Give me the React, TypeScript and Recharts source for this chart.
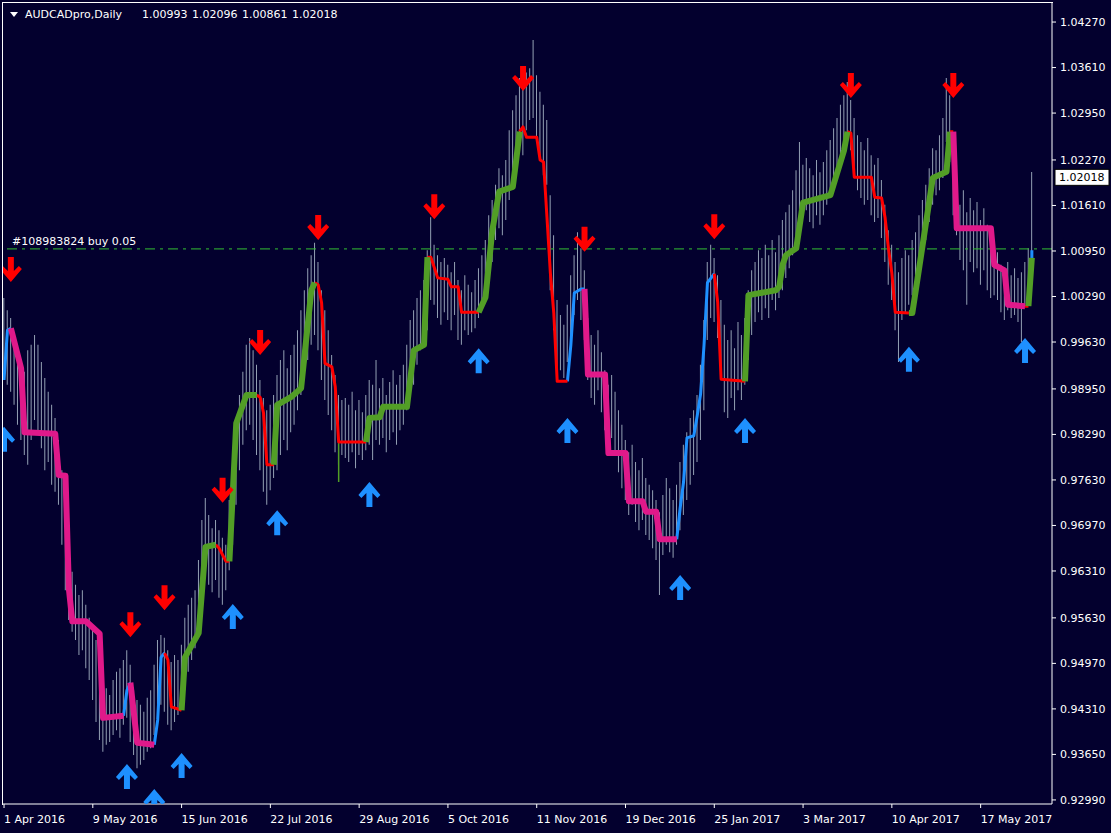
import React from "react";
import {
  ComposedChart,
  Bar,
  Line,
  Scatter,
  XAxis,
  YAxis,
  ReferenceLine,
} from "recharts";

// daily bars, high / low per bar (bar 0 = 1 Apr 2016)
const highs = [
  1.0027, 1.0009, 0.9998, 0.9969, 0.9959, 0.9937, 0.992, 0.9951, 0.9959, 0.9973,
  0.9959, 0.9934, 0.9911, 0.9891, 0.9872, 0.9853, 0.9821, 0.9777, 0.9705, 0.9654,
  0.963, 0.9611, 0.9596, 0.9603, 0.9582, 0.9563, 0.9545, 0.9531, 0.9502, 0.9485,
  0.9461, 0.9451, 0.9473, 0.9485, 0.949, 0.9502, 0.9516, 0.9495, 0.9458, 0.9444,
  0.9437, 0.9427, 0.9447, 0.9458, 0.9495, 0.9531, 0.9538, 0.9534, 0.9516, 0.9499,
  0.9509, 0.9502, 0.9524, 0.9563, 0.9582, 0.9592, 0.9603, 0.9647, 0.9705, 0.9737,
  0.9712, 0.9693, 0.9705, 0.969, 0.9679, 0.9669, 0.9734, 0.9792, 0.9843, 0.9886,
  0.992, 0.9959, 0.9969, 0.9951, 0.993, 0.9908, 0.9882, 0.9864, 0.9872, 0.9886,
  0.9915, 0.9937, 0.9951, 0.9925, 0.9944, 0.9959, 0.998, 1.0009, 1.0038, 1.007,
  1.0089, 1.0107, 1.0079, 1.0038, 1.0009, 0.998, 0.9944, 0.9915, 0.9886, 0.9879,
  0.9882, 0.9872, 0.9891, 0.9864, 0.9879, 0.9861, 0.9886, 0.9908, 0.9901, 0.9937,
  0.9896, 0.9911, 0.9886, 0.9905, 0.9922, 0.9901, 0.9915, 0.993, 0.9959, 0.9995,
  1.0009, 1.0027, 1.0038, 1.0053, 1.0096, 1.0144, 1.0104, 1.0089, 1.0079, 1.0085,
  1.0075, 1.0064, 1.0079, 1.0053, 1.0038, 1.006, 1.0046, 1.0035, 1.0053, 1.007,
  1.0089, 1.0111, 1.0147, 1.0169, 1.0191, 1.0215, 1.0205, 1.0227, 1.027, 1.0299,
  1.0321, 1.0346, 1.0336, 1.0354, 1.036, 1.0401, 1.035, 1.0326, 1.0307, 1.0285,
  1.0176, 1.0118, 1.0024, 1.0002, 0.9988, 1.0017, 1.006, 1.0089, 1.0122, 1.0099,
  1.0067, 0.9998, 0.9973, 0.9959, 0.998, 0.9948, 0.9922, 0.9901, 0.9915, 0.9891,
  0.9864, 0.9843, 0.9821, 0.9803, 0.9814, 0.9789, 0.9777, 0.9795, 0.9766, 0.9756,
  0.9748, 0.9734, 0.9716, 0.9741, 0.9766, 0.9751, 0.9734, 0.9756, 0.9789, 0.9814,
  0.9832, 0.9853, 0.9864, 0.9886, 0.993, 0.9995, 1.0079, 1.0104, 1.0085, 1.006,
  1.0024, 0.9988, 0.9966, 0.998, 0.9954, 0.9992, 0.9973, 0.9998, 1.0038, 1.0067,
  1.0079, 1.0096, 1.0085, 1.0104, 1.0089, 1.0111, 1.0093, 1.0118, 1.014, 1.0151,
  1.0162, 1.0183, 1.0212, 1.0253, 1.022, 1.023, 1.0215, 1.0205, 1.0227, 1.0209,
  1.0224, 1.0241, 1.0256, 1.0273, 1.0288, 1.0307, 1.0321, 1.034, 1.0314, 1.0288,
  1.0263, 1.0253, 1.0241, 1.0259, 1.0234, 1.022, 1.023, 1.0198, 1.0162, 1.0125,
  1.0104, 1.0079, 1.0064, 1.0085, 1.0096, 1.0089, 1.0111, 1.0122, 1.0147, 1.0169,
  1.0191, 1.0215, 1.0244, 1.0241, 1.0263, 1.0288, 1.0346, 1.0321, 1.0256, 1.022,
  1.0162, 1.0183, 1.0151, 1.0172, 1.0154, 1.0166, 1.014, 1.0157, 1.0133, 1.0118,
  1.0111, 1.0093, 1.0075, 1.0067, 1.0079, 1.006, 1.007, 1.0056, 1.0064, 1.0079,
  1.0099, 1.02096,
];

const lows = [
  0.992, 0.9901, 0.9891, 0.9872, 0.9843, 0.9821, 0.9799, 0.9785, 0.9821, 0.985,
  0.9832, 0.9809, 0.9777, 0.9789, 0.9756, 0.9746, 0.9727, 0.9669, 0.9603, 0.956,
  0.9543, 0.9531, 0.9509, 0.9516, 0.949, 0.9473, 0.9444, 0.9412, 0.9386, 0.9369,
  0.9379, 0.9383, 0.9393, 0.94, 0.9389, 0.9408, 0.9418, 0.9383, 0.9364, 0.9345,
  0.935, 0.9357, 0.9369, 0.9374, 0.9393, 0.9415, 0.9437, 0.9427, 0.9408, 0.94,
  0.9412, 0.9422, 0.9437, 0.9458, 0.9485, 0.9502, 0.9519, 0.9553, 0.9589, 0.9625,
  0.9611, 0.96, 0.9618, 0.9592, 0.9582, 0.9603, 0.9632, 0.9669, 0.9727, 0.9777,
  0.9814, 0.9835, 0.9843, 0.9821, 0.9799, 0.9777, 0.9746, 0.9727, 0.9748, 0.9766,
  0.9777, 0.9799, 0.9821, 0.9806, 0.9832, 0.9843, 0.9864, 0.9886, 0.9915, 0.9937,
  0.9959, 0.9973, 0.9951, 0.9908, 0.9879, 0.9857, 0.9835, 0.9803, 0.9785, 0.9799,
  0.9795, 0.9789, 0.9803, 0.978, 0.9799, 0.9792, 0.9806, 0.9814, 0.9792, 0.9821,
  0.9814, 0.9824, 0.9803, 0.9821, 0.9832, 0.9814, 0.9835, 0.9843, 0.9864, 0.9886,
  0.9901, 0.993, 0.9951, 0.9959, 0.998, 1.0024, 1.0017, 0.9998, 0.9988, 1.0006,
  0.9995, 0.998, 1.0002, 0.9966, 0.9959, 0.998, 0.9973, 0.9977, 0.9983, 0.9998,
  1.0009, 1.0024, 1.0053, 1.0079, 1.0111, 1.0128, 1.0118, 1.014, 1.0169, 1.0201,
  1.0227, 1.0249, 1.0234, 1.027, 1.0285, 1.0288, 1.0256, 1.0227, 1.0205, 1.0191,
  1.0038, 0.998, 0.992, 0.9922, 0.9911, 0.9934, 0.9973, 1.0002, 1.0024, 0.9995,
  0.9966, 0.9908, 0.9882, 0.9872, 0.9893, 0.9861, 0.9835, 0.9814, 0.9824, 0.9799,
  0.9774, 0.9751, 0.9734, 0.9712, 0.9727, 0.9702, 0.969, 0.9705, 0.9683, 0.9676,
  0.9664, 0.9647, 0.9596, 0.9654, 0.9669, 0.9658, 0.965, 0.9669, 0.969, 0.9712,
  0.9734, 0.9756, 0.977, 0.9789, 0.9821, 0.9864, 0.9966, 0.9998, 0.9992, 0.9969,
  0.9915, 0.9861, 0.9853, 0.9882, 0.9864, 0.9893, 0.9879, 0.9901, 0.9937, 0.9973,
  0.9992, 1.0006, 0.9995, 1.0012, 0.9998, 1.0024, 1.0009, 1.0027, 1.0038, 1.0056,
  1.007, 1.0089, 1.0104, 1.014, 1.0147, 1.0154, 1.0137, 1.0128, 1.0147, 1.0133,
  1.0147, 1.0162, 1.0176, 1.0191, 1.0205, 1.022, 1.0244, 1.0256, 1.0241, 1.0215,
  1.0183, 1.0172, 1.0162, 1.0169, 1.0147, 1.0137, 1.0143, 1.0114, 1.0079, 1.0046,
  1.0024, 0.998, 0.9934, 0.9995, 1.0006, 1.0017, 1.0031, 1.0046, 1.0067, 1.0089,
  1.0111, 1.0137, 1.0162, 1.0176, 1.0183, 1.0201, 1.0253, 1.0224, 1.0147, 1.0118,
  1.0082, 1.0067, 1.0017, 1.0079, 1.0064, 1.007, 1.0046, 1.0067, 1.0038, 1.0027,
  1.0031, 1.0024, 1.0006, 0.9995, 1.0009, 0.9998, 1.0002, 0.9992, 0.9963, 1.0017,
  1.0024, 1.00861,
];

const lastBar = { open: 1.00993, high: 1.02096, low: 1.00861, close: 1.02018 };
const orderPrice = 1.0098;
const orderText = "#108983824 buy 0.05";

const xTickBars = [0, 26, 52, 78, 104, 130, 156, 182, 208, 234, 260, 286];
const xTickLabels = [
  "1 Apr 2016", "9 May 2016", "15 Jun 2016", "22 Jul 2016", "29 Aug 2016",
  "5 Oct 2016", "11 Nov 2016", "19 Dec 2016", "25 Jan 2017", "3 Mar 2017",
  "10 Apr 2017", "17 May 2017",
];
const yTicks = [
  0.9299, 0.9365, 0.9431, 0.9497, 0.9563, 0.9631, 0.9697, 0.9763, 0.9829,
  0.9895, 0.9963, 1.0029, 1.0095, 1.0161, 1.0227, 1.0295, 1.0361, 1.0427,
];

// trend indicator, [bar, price] vertices, null = break
type Pt = [number, number] | null;

const thinBlue: Pt[] = [
  [0, 0.9908], [1, 0.998], [2, 0.9983], null,
  [35, 0.9421], [36, 0.9458], [37, 0.9469], null,
  [44, 0.9379], [45, 0.9415], [46, 0.9506], [47, 0.9512], null,
  [165, 0.9906], [166, 0.9959], [167, 1.0034], [169, 1.004], [170, 1.004], null,
  [197, 0.9677], [198, 0.9722], [199, 0.976], [200, 0.9824], [202, 0.9827],
  [203, 0.9856], [204, 0.9888], [205, 0.9959], [206, 1.0049], [208, 1.0062], null,
  [301, 1.0075], [301, 1.0096],
];

const thinRed: Pt[] = [
  [47, 0.9512], [48, 0.9502], [49, 0.9434], [52, 0.9429], null,
  [62, 0.9669], [63, 0.9664], [65, 0.9645], [66, 0.9645], null,
  [74, 0.9886], [75, 0.9883], [76, 0.986], [77, 0.9785], [79, 0.9785], null,
  [91, 1.0049], [92, 1.0046], [93, 1.002], [94, 0.9932], [96, 0.9927], [97, 0.9898],
  [98, 0.9818], [106, 0.9818], null,
  [124, 1.0086], [125, 1.0086], [127, 1.0056], [130, 1.0054], [131, 1.0043],
  [133, 1.0043], [134, 1.0006], [139, 1.0006], null,
  [151, 1.0268], [152, 1.0275], [153, 1.026], [156, 1.026], [157, 1.0227],
  [158, 1.0224], [159, 1.0144], [160, 1.0063], [161, 1.0005], [162, 0.9906],
  [165, 0.9906], null,
  [208, 1.0062], [209, 1.0021], [210, 0.9909], [217, 0.9906], null,
  [247, 1.0268], [248, 1.0266], [249, 1.0202], [254, 1.0202], [255, 1.0173],
  [257, 1.0172], [258, 1.0144], [259, 1.0099], [260, 1.0063], [261, 1.0006],
  [265, 1.0005], null,
  [277, 1.0268], [278, 1.0268], null,
  [299, 1.0015], [300, 1.0015],
];

const thickGreen: Pt[] = [
  [52, 0.9429], [53, 0.9506], [57, 0.9541], [59, 0.9666], [62, 0.9669], null,
  [66, 0.9645], [68, 0.9845], [71, 0.9886], [74, 0.9886], null,
  [79, 0.9785], [80, 0.9872], [84, 0.9883], [87, 0.9896], [90, 1.0038], [91, 1.0049], null,
  [106, 0.9818], [107, 0.9853], [110, 0.9854], [111, 0.9869], [118, 0.9869],
  [120, 0.9951], [123, 0.9959], [124, 1.0086], null,
  [139, 1.0006], [141, 1.0028], [143, 1.0125], [145, 1.0181], [149, 1.0188],
  [150, 1.0227], [151, 1.0268], null,
  [217, 0.9906], [218, 1.0031], [226, 1.0038], [227, 1.0043], [228, 1.0075],
  [229, 1.0089], [232, 1.0099], [234, 1.0165], [242, 1.0176], [246, 1.0241],
  [247, 1.0268], null,
  [265, 1.0005], [266, 1.0005], [272, 1.0201], [276, 1.021], [277, 1.0268], null,
  [300, 1.0015], [301, 1.0085],
];

const thickMagenta: Pt[] = [
  [2, 0.9983], [5, 0.9925], [6, 0.9832], [15, 0.983], [16, 0.977], [18, 0.9769],
  [19, 0.9605], [20, 0.9558], [24, 0.9558], [28, 0.954], [29, 0.9418], [35, 0.9421], null,
  [37, 0.9469], [39, 0.9382], [44, 0.9379], null,
  [170, 1.004], [171, 0.9916], [176, 0.9916], [177, 0.9802], [182, 0.9802],
  [183, 0.9732], [187, 0.9732], [188, 0.9717], [191, 0.9717], [192, 0.9677],
  [197, 0.9677], null,
  [278, 1.0268], [279, 1.0128], [289, 1.0128], [290, 1.0075], [293, 1.0067],
  [294, 1.0017], [299, 1.0015],
];

const greenSpike: Pt[] = [[98, 0.9818], [98, 0.976]];

// signal arrows, [bar, price at arrow tip]
const downArrows: [number, number][] = [
  [2, 1.005], [37, 0.9535], [47, 0.9574], [64, 0.973], [75, 0.9944], [92, 1.0111],
  [126, 1.0141], [152, 1.0327], [170, 1.0094], [208, 1.0112], [248, 1.0317], [278, 1.0317],
];
const upArrows: [number, number][] = [
  [0, 0.984], [36, 0.9351], [44, 0.9315], [52, 0.9367], [67, 0.9583], [80, 0.9719],
  [107, 0.976], [139, 0.9954], [165, 0.9853], [198, 0.9625], [217, 0.9853],
  [265, 0.9956], [299, 0.9969],
];

const W = 1111;
const H = 833;
const BG = "#03002e";
const FG = "#ffffff";
const FONT = "'DejaVu Sans', sans-serif";
const GRAY = "#94a0b4";
const GREEN = "#529e26";
const MAGENTA = "#e0198a";
const BLUE = "#1e90ff";
const RED = "#ff0000";

const bars = highs.map((h, i) => ({ i, range: [lows[i], h] }));

const toSeries = (path: Pt[]) =>
  path.map((p, k) =>
    p ? { i: p[0], v: p[1] } : { i: (path[k - 1] as [number, number])[0], v: null }
  );

const toPoints = (arr: [number, number][]) => arr.map(([i, p]) => ({ i, p }));

function DownArrow({ cx, cy }: any) {
  const d = `M${cx - 3},${cy - 25} L${cx + 3},${cy - 25} L${cx + 3},${cy - 11} L${cx + 8},${cy - 16} L${cx + 11},${cy - 13} L${cx},${cy} L${cx - 11},${cy - 13} L${cx - 8},${cy - 16} L${cx - 3},${cy - 11} Z`;
  return <path d={d} fill={RED} />;
}

function UpArrow({ cx, cy }: any) {
  const d = `M${cx - 3},${cy + 25} L${cx + 3},${cy + 25} L${cx + 3},${cy + 11} L${cx + 8},${cy + 16} L${cx + 11},${cy + 13} L${cx},${cy} L${cx - 11},${cy + 13} L${cx - 8},${cy + 16} L${cx - 3},${cy + 11} Z`;
  return <path d={d} fill={BLUE} />;
}

function XTick({ x, y, payload }: any) {
  const k = xTickBars.indexOf(payload.value);
  return (
    <text x={x} y={y + 13} fill={FG} fontSize={11} fontFamily={FONT}>
      {xTickLabels[k]}
    </text>
  );
}

const lineProps = {
  dataKey: "v",
  dot: false,
  activeDot: false,
  connectNulls: false,
  isAnimationActive: false,
  strokeLinejoin: "round" as const,
};

export default function App() {
  return (
    <div
      style={{
        position: "absolute",
        left: 0,
        top: 0,
        width: W,
        height: H,
        background: BG,
        overflow: "hidden",
        fontFamily: FONT,
      }}
    >
      <ComposedChart
        width={W}
        height={H}
        data={bars}
        margin={{ top: 3, right: 0, bottom: 0, left: 3 }}
      >
        <XAxis
          dataKey="i"
          type="number"
          domain={[-0.3, 306.9]}
          allowDataOverflow
          ticks={xTickBars}
          interval={0}
          tick={<XTick />}
          tickSize={4}
          height={29}
          stroke={FG}
          tickLine={{ stroke: FG }}
        />
        <YAxis
          orientation="right"
          type="number"
          domain={[0.92931, 1.04546]}
          allowDataOverflow
          ticks={yTicks}
          interval={0}
          width={59}
          tickSize={4}
          tickMargin={4}
          stroke={FG}
          tickLine={{ stroke: FG }}
          tick={{ fill: FG, fontSize: 11, fontFamily: FONT }}
          tickFormatter={(v: number) => v.toFixed(5)}
        />
        <ReferenceLine
          y={orderPrice}
          stroke="#34c034"
          strokeDasharray="10 5 3 5"
          label={(p: any) => (
            <text
              x={p.viewBox.x + 9}
              y={p.viewBox.y - 4}
              fill={FG}
              fontSize={11}
              fontFamily={FONT}
            >
              {orderText}
            </text>
          )}
        />
        <Bar dataKey="range" barSize={1} fill={GRAY} isAnimationActive={false} />
        <Line {...lineProps} data={toSeries(greenSpike)} stroke={GREEN} strokeWidth={1.5} />
        <Line {...lineProps} data={toSeries(thinBlue)} stroke={BLUE} strokeWidth={3} />
        <Line {...lineProps} data={toSeries(thinRed)} stroke={RED} strokeWidth={3} />
        <Line {...lineProps} data={toSeries(thickGreen)} stroke={GREEN} strokeWidth={6} />
        <Line {...lineProps} data={toSeries(thickMagenta)} stroke={MAGENTA} strokeWidth={6} />
        <Scatter data={toPoints(downArrows)} dataKey="p" shape={<DownArrow />} isAnimationActive={false} />
        <Scatter data={toPoints(upArrows)} dataKey="p" shape={<UpArrow />} isAnimationActive={false} />
        <ReferenceLine
          y={lastBar.close}
          stroke="none"
          label={(p: any) => (
            <g>
              <rect
                x={p.viewBox.x + p.viewBox.width + 3}
                y={p.viewBox.y - 8}
                width={54}
                height={16}
                fill="#ffffff"
                stroke="#000000"
              />
              <text
                x={p.viewBox.x + p.viewBox.width + 7}
                y={p.viewBox.y + 4}
                fill="#000000"
                fontSize={11}
                fontFamily={FONT}
              >
                {lastBar.close.toFixed(5)}
              </text>
            </g>
          )}
        />
      </ComposedChart>
      <div
        style={{
          position: "absolute",
          left: 2,
          top: 2,
          width: 1050,
          height: 802,
          borderLeft: `1px solid ${FG}`,
          borderTop: `1px solid ${FG}`,
          pointerEvents: "none",
        }}
      />
      <div
        style={{
          position: "absolute",
          left: 10,
          top: 8,
          color: FG,
          fontSize: 11,
          lineHeight: "13px",
          whiteSpace: "pre",
          display: "flex",
          alignItems: "center",
        }}
      >
        <svg width={8} height={6} style={{ marginRight: 7 }}>
          <path d="M0,0 L8,0 L4,5 Z" fill={FG} />
        </svg>
        <span>AUDCADpro,Daily</span>
        <span style={{ marginLeft: 20, wordSpacing: 1 }}>
          {[lastBar.open, lastBar.high, lastBar.low, lastBar.close]
            .map((v) => v.toFixed(5))
            .join(" ")}
        </span>
      </div>
    </div>
  );
}
